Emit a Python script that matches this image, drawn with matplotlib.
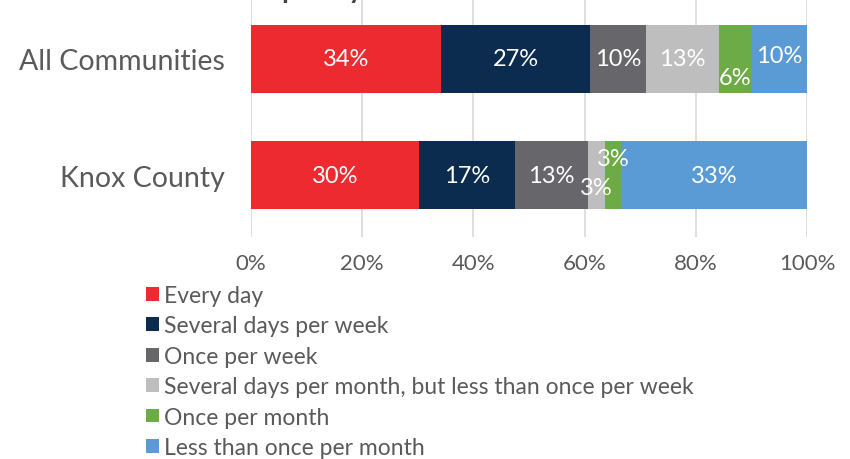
import matplotlib.pyplot as plt
import numpy as np

# Data (percent of respondents)
groups = ["All Communities", "Knox County"]
categories = [
    "Every day",
    "Several days per week",
    "Once per week",
    "Several days per month, but less than once per week",
    "Once per month",
    "Less than once per month",
]
all_communities = [34.2, 26.8, 10.0, 13.1, 5.9, 10.0]
knox_county = [30.2, 17.3, 13.1, 3.1, 3.0, 33.3]
bar_labels = [
    ["34%", "27%", "10%", "13%", "6%", "10%"],
    ["30%", "17%", "13%", "3%", "3%", "33%"],
]
x_ticks = [0, 20, 40, 60, 80, 100]

colors = ["#ED2A30", "#0C2C4F", "#67666B", "#BEBEBE", "#6CAB45", "#5B9BD5"]
TEXT = "#5A5A5A"

# Small labels nudged up/down to avoid overlap: (group, segment) -> dy
_LABEL_NUDGE = {(0, 4): 0.16, (0, 5): -0.03, (1, 3): 0.11, (1, 4): -0.14}

plt.rcParams["font.family"] = ["Lato", "DejaVu Sans"]

fig = plt.figure(figsize=(8.5, 4.6), dpi=100)
ax = fig.add_axes([251 / 850, 1 - 238 / 460, 556 / 850, 238 / 460])

values = np.array([all_communities, knox_county])
y = np.arange(len(groups))
left = np.zeros(len(groups))
for k, cat in enumerate(categories):
    ax.barh(y, values[:, k], left=left, height=0.58, color=colors[k],
            label=cat, zorder=3)
    for g in range(len(groups)):
        xc = left[g] + values[g, k] / 2
        yc = y[g] + _LABEL_NUDGE.get((g, k), 0)
        ax.text(xc, yc, bar_labels[g][k], ha="center", va="center",
                color="white", fontsize=17, zorder=4)
    left += values[:, k]

ax.set_xlim(0, 100)
ax.set_ylim(1.534, -0.517)
ax.set_xticks(x_ticks)
ax.set_xticklabels([f"{t}%" for t in x_ticks], fontsize=16, color=TEXT)
ax.set_yticks(y)
ax.set_yticklabels(groups, fontsize=20.5, color=TEXT)
ax.tick_params(axis="both", length=0)
ax.tick_params(axis="x", pad=11.5)
ax.tick_params(axis="y", pad=19)
ax.xaxis.grid(True, color="#D9D9D9", linewidth=1.2, zorder=0)
for s in ax.spines.values():
    s.set_visible(False)

# Title cut off by the top edge in the reference
fig.text(0.274, 1.004, "Frequency", ha="left", va="baseline",
         fontsize=20, fontweight="bold", color="#444444")

fig.legend(loc="upper left", bbox_to_anchor=(146 / 850, 1 - 286 / 460),
           frameon=False, fontsize=16.5, labelcolor=TEXT,
           handlelength=0.55, handleheight=0.55, handletextpad=0.22,
           labelspacing=0.41, borderaxespad=0, borderpad=0)

fig.savefig("out.png", dpi=100)
